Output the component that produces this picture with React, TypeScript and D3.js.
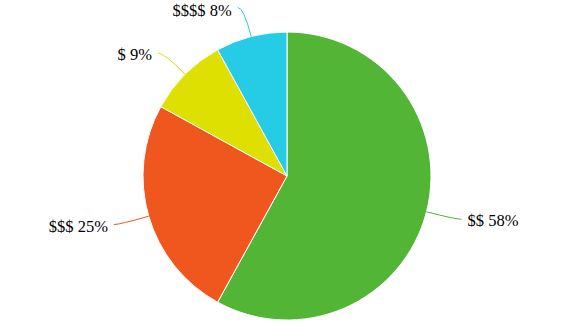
import React from "react";
import * as d3 from "d3";

const categories = ["$$", "$$$", "$", "$$$$"];
const values = [58, 25, 9, 8];
const colors = ["#52b535", "#f0571e", "#dde000", "#26cce6"];

const W = 586;
const H = 326;
const CX = 287;
const CY = 176;
const R = 144;
const LEN1 = 30;
const LEN2 = 6;
const GAP = 6;

export default function App() {
  const pie = d3.pie<number>().sort(null).value((d) => d);
  const arcs = pie(values);
  const arcGen = d3.arc<d3.PieArcDatum<number>>().innerRadius(0).outerRadius(R);
  const total = d3.sum(values);

  return (
    <svg
      width={W}
      height={H}
      style={{ position: "absolute", left: 0, top: 0, background: "#fff" }}
    >
      <g transform={`translate(${CX},${CY})`}>
        {arcs.map((a, i) => (
          <path
            key={"s" + i}
            d={arcGen(a) || ""}
            fill={colors[i]}
            stroke="#fff"
            strokeWidth={1}
          />
        ))}
        {arcs.map((a, i) => {
          const mid = (a.startAngle + a.endAngle) / 2;
          const dx = Math.sin(mid);
          const dy = -Math.cos(mid);
          const p0 = [dx * R, dy * R];
          const p1 = [dx * (R + LEN1), dy * (R + LEN1)];
          const right = dx >= 0;
          const p2 = [p1[0] + (right ? LEN2 : -LEN2), p1[1]];
          const d = `M${p0[0]},${p0[1]} Q${p1[0]},${p1[1]} ${p2[0]},${p2[1]}`;
          const pct = Math.round((values[i] / total) * 100);
          const textY = Math.max(p2[1] + 7, -CY + 16);
          return (
            <g key={"l" + i}>
              <path d={d} fill="none" stroke={colors[i]} strokeWidth={1} />
              <text
                x={p2[0] + (right ? GAP : -GAP)}
                y={textY}
                textAnchor={right ? "start" : "end"}
                style={{ fontFamily: "'Liberation Serif', serif", fontSize: "16.5px" }}
                fill="#000"
              >
                {`${categories[i]} ${pct}%`}
              </text>
            </g>
          );
        })}
      </g>
    </svg>
  );
}
